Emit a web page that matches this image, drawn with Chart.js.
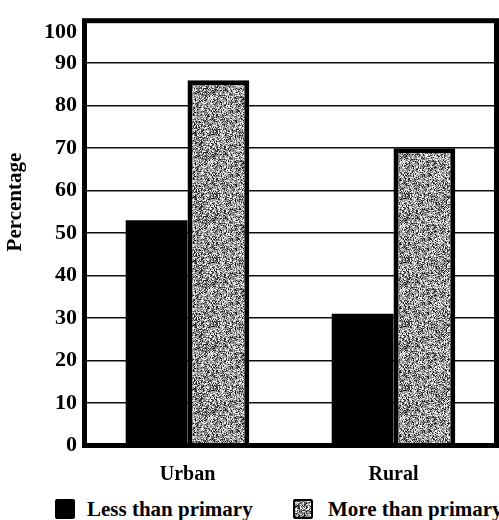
<!DOCTYPE html>
<html>
<head>
<meta charset="utf-8">
<title>Percentage by education, urban and rural</title>
<script src="https://cdn.jsdelivr.net/npm/chart.js@4.4.1/dist/chart.umd.min.js"></script>
<style>
  body { margin: 0; background: #fff; }
  .wrap { position: relative; width: 499px; height: 520px; }
  #grafico { position: absolute; left: 0; top: 0; }
  .leyenda { position: absolute; top: 498px; height: 22px; display: flex; align-items: center; white-space: nowrap;
             font: bold 21px "Liberation Serif", "Times New Roman", serif; color: #000; }
  .leyenda .caja { width: 20px; height: 20px; margin-right: 12px; box-sizing: border-box; }
  .leyenda .negra { background: #000; border-radius: 2px; }
  .leyenda canvas { display: block; margin-right: 15px; border: 2px solid #000; border-radius: 2px; }
</style>
</head>
<body>
<div class="wrap">
  <canvas id="grafico" width="499" height="490"></canvas>
  <div class="leyenda" style="left:55px"><div class="caja negra"></div><span id="ley1"></span></div>
  <div class="leyenda" style="left:293px"><canvas id="muestra" width="16" height="16"></canvas><span id="ley2"></span></div>
</div>

<script>
// DATOS

const categorias = ["Urban", "Rural"];
const menosPrimaria = [53, 31];
const masPrimaria = [86, 70];
const nombresSeries = ["Less than primary", "More than primary"];
const ticksY = [0, 10, 20, 30, 40, 50, 60, 70, 80, 90, 100];
const tituloY = "Percentage";

const fuente = "'Liberation Serif', 'Times New Roman', serif";

// textura gris punteada (fija, sin aleatorios)
function hashPixel(x, y) {
    let h = Math.imul(x, 374761393) + Math.imul(y, 668265263);
    h = Math.imul(h ^ (h >>> 13), 1274126177);
    h = h ^ (h >>> 16);
    return (h >>> 0) / 4294967295;
}

function pintaTextura(c) {
    const g = c.getContext("2d");
    const img = g.createImageData(c.width, c.height);
    for (let y = 0; y < c.height; y++) {
        for (let x = 0; x < c.width; x++) {
            const r = hashPixel(x, y);
            const v = r < 0.2 ? 35 : r < 0.45 ? 115 : r < 0.75 ? 170 : 240;
            const i = (y * c.width + x) * 4;
            img.data[i] = v; img.data[i + 1] = v; img.data[i + 2] = v; img.data[i + 3] = 255;
        }
    }
    g.putImageData(img, 0, 0);
}

const texCanvas = document.createElement("canvas");
texCanvas.width = 64;
texCanvas.height = 64;
pintaTextura(texCanvas);
const ctx = document.getElementById("grafico").getContext("2d");
const textura = ctx.createPattern(texCanvas, "repeat");

pintaTextura(document.getElementById("muestra"));
document.getElementById("ley1").textContent = nombresSeries[0];
document.getElementById("ley2").textContent = nombresSeries[1];

// marco grueso, titulo del eje y etiqueta 100
const marco = {
    id: "marco",
    afterDatasetsDraw(chart) {
        const a = chart.chartArea;
        const c = chart.ctx;
        c.save();
        c.strokeStyle = "#000";
        c.lineWidth = 5;
        c.strokeRect(a.left, a.top, a.right - a.left, a.bottom - a.top);
        c.restore();
    },
    afterDraw(chart) {
        const y = chart.scales.y;
        const c = chart.ctx;
        c.save();
        c.fillStyle = "#000";
        c.font = "bold 22px " + fuente;
        c.textAlign = "right";
        c.textBaseline = "middle";
        c.fillText(String(ticksY[ticksY.length - 1]), y.right - 7.5, y.getPixelForValue(97.3));
        c.translate(16, y.getPixelForValue(57.3));
        c.rotate(-Math.PI / 2);
        c.font = "bold 21px " + fuente;
        c.textAlign = "center";
        c.fillText(tituloY, 0, 0);
        c.restore();
    }
};

new Chart(ctx, {
    type: "bar",
    data: {
        labels: categorias,
        datasets: [
            {
                label: nombresSeries[0],
                data: menosPrimaria,
                backgroundColor: "#000",
                borderWidth: 0
            },
            {
                label: nombresSeries[1],
                data: masPrimaria,
                backgroundColor: textura,
                borderColor: "#000",
                borderWidth: 5
            }
        ]
    },
    options: {
        responsive: false,
        animation: false,
        devicePixelRatio: 1,
        categoryPercentage: 0.6,
        barPercentage: 1,
        layout: { padding: { top: 12, right: 2.5, left: 0, bottom: 0 } },
        plugins: {
            legend: { display: false },
            tooltip: { enabled: false }
        },
        scales: {
            x: {
                grid: { display: false, drawTicks: false },
                border: { display: false },
                ticks: {
                    color: "#000",
                    padding: 17,
                    font: { family: fuente, size: 20, weight: "bold" }
                },
                afterFit(scale) { scale.height = 44.5; }
            },
            y: {
                min: 0,
                max: 100,
                afterBuildTicks(scale) { scale.ticks = ticksY.map(v => ({ value: v })); },
                grid: { color: "#111", lineWidth: 1.5, drawTicks: false },
                border: { display: false },
                ticks: {
                    color: "#000",
                    padding: 7.5,
                    font: { family: fuente, size: 22, weight: "bold" },
                    callback: v => (v === 100 ? "" : v)
                },
                afterFit(scale) { scale.width = 84.5; }
            }
        }
    },
    plugins: [marco]
});
</script>
</body>
</html>
